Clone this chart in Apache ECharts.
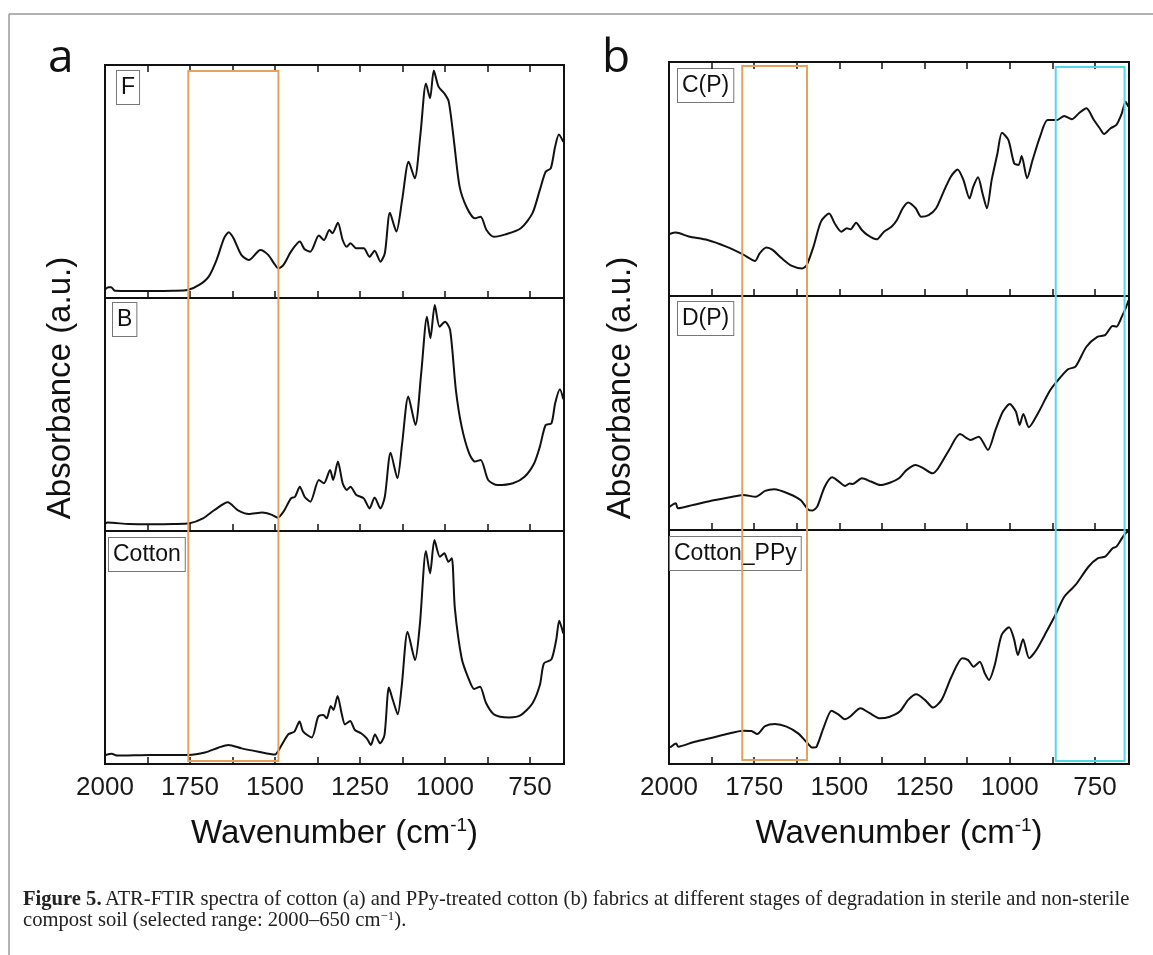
<!DOCTYPE html>
<html>
<head>
<meta charset="utf-8">
<script src="https://cdn.jsdelivr.net/npm/echarts@6/dist/echarts.min.js"></script>
<style>
  html, body { margin: 0; background: #fff; }
  #chart { width: 1153px; height: 955px; }
</style>
</head>
<body>
<div id="chart"></div>
<script>
// spectra: [wavenumber, absorbance (a.u., 0-100 per panel)]
const specF = [[1998,3.9],[1990,4.6],[1982,4.6],[1971,3.1],[1920,3.0],[1858,3.0],[1800,3.1],[1757,3.4],[1723,5.6],[1695,9.2],[1672,16.3],[1650,25.6],[1636,28.2],[1622,25.6],[1599,18.5],[1577,16.3],[1543,20.6],[1520,18.5],[1503,14.9],[1490,12.7],[1475,14.2],[1453,19.9],[1427,24.2],[1413,20.9],[1396,19.9],[1371,26.8],[1356,24.9],[1340,29.2],[1331,27.8],[1315,32.3],[1301,24.9],[1289,22.0],[1278,23.5],[1261,21.3],[1239,21.3],[1222,17.7],[1207,20.3],[1190,15.6],[1177,19.2],[1162,36.6],[1143,28.5],[1126,42.1],[1107,58.5],[1089,51.4],[1072,70.7],[1056,92.1],[1044,85.7],[1033,97.6],[1019,90.7],[1002,87.8],[989,84.3],[974,67.8],[957,47.8],[935,38.5],[912,34.2],[895,34.9],[878,29.2],[856,26.3],[822,27.3],[777,29.9],[743,36.3],[721,46.4],[704,54.2],[689,55.6],[676,65.0],[665,70.2],[652,67.0]];
const specB = [[1998,3.3],[1993,3.6],[1930,3.0],[1858,2.9],[1800,3.0],[1751,3.3],[1712,5.4],[1678,9.0],[1639,12.3],[1610,9.0],[1577,7.3],[1537,7.9],[1509,6.9],[1492,5.7],[1475,8.3],[1453,14.0],[1441,14.7],[1427,19.0],[1413,14.7],[1396,12.6],[1371,21.9],[1356,20.5],[1338,26.2],[1329,21.9],[1315,29.8],[1301,20.5],[1289,17.6],[1278,19.0],[1261,15.5],[1239,14.0],[1222,9.7],[1207,14.4],[1190,9.7],[1177,14.7],[1160,33.6],[1140,22.6],[1126,37.6],[1108,57.7],[1087,45.5],[1070,67.7],[1053,92.0],[1043,82.7],[1030,97.0],[1016,87.7],[1000,89.8],[985,86.3],[968,60.5],[951,44.8],[929,33.3],[912,29.8],[895,30.5],[873,21.9],[845,19.7],[800,20.5],[766,23.3],[738,29.0],[721,36.2],[704,45.5],[687,46.2],[676,54.8],[662,60.8],[652,56.5]];
const specCotton = [[1998,3.9],[1980,4.4],[1966,3.6],[1863,3.9],[1755,3.9],[1706,4.9],[1667,7.0],[1637,8.2],[1598,6.7],[1549,5.3],[1500,4.1],[1485,7.0],[1461,12.7],[1443,13.9],[1428,18.2],[1417,13.9],[1392,11.4],[1373,20.3],[1358,21.0],[1348,19.6],[1336,24.9],[1328,23.2],[1316,29.2],[1304,21.7],[1294,17.0],[1279,18.5],[1265,14.6],[1247,13.2],[1230,11.0],[1218,8.2],[1206,12.7],[1191,8.9],[1178,12.4],[1165,32.8],[1152,26.8],[1139,21.3],[1127,33.9],[1110,56.8],[1088,44.6],[1074,59.7],[1056,91.4],[1044,81.8],[1031,96.1],[1015,89.0],[1002,90.4],[990,86.8],[980,88.3],[971,66.8],[951,45.4],[931,36.8],[914,32.2],[897,33.2],[880,26.4],[858,21.5],[838,20.3],[811,20.0],[777,21.0],[743,26.0],[721,33.9],[709,43.2],[687,44.9],[673,53.2],[664,61.5],[652,56.0]];
const specCP = [[1998,26.5],[1980,27.1],[1942,25.4],[1887,23.9],[1832,21.1],[1783,17.8],[1747,15.0],[1734,18.2],[1714,20.7],[1696,19.7],[1669,16.1],[1641,13.0],[1609,11.8],[1596,13.2],[1576,21.1],[1554,31.8],[1530,35.3],[1514,31.1],[1494,27.5],[1478,28.9],[1467,28.5],[1451,31.3],[1434,28.2],[1418,26.1],[1391,24.2],[1369,27.5],[1347,29.6],[1331,32.5],[1314,37.5],[1298,40.0],[1276,37.5],[1260,33.9],[1238,34.6],[1216,37.5],[1194,44.6],[1173,51.0],[1153,54.1],[1136,49.6],[1118,41.7],[1107,46.7],[1093,50.7],[1080,43.9],[1067,37.5],[1053,49.6],[1036,61.0],[1023,69.8],[1004,66.7],[987,56.7],[974,56.0],[965,59.8],[949,50.3],[933,58.1],[911,68.1],[889,75.2],[862,75.2],[840,76.9],[818,75.5],[797,78.1],[775,80.2],[753,75.2],[736,71.7],[723,69.2],[704,71.7],[687,73.1],[671,78.1],[660,83.0],[652,80.9]];
const specDP = [[1998,10.0],[1980,11.4],[1974,9.3],[1930,10.7],[1876,12.5],[1821,14.0],[1783,15.0],[1745,14.2],[1718,16.7],[1691,17.4],[1647,15.4],[1614,12.8],[1592,8.8],[1579,8.3],[1565,10.0],[1543,18.5],[1521,22.5],[1505,21.1],[1483,18.8],[1470,19.9],[1461,19.7],[1434,22.1],[1407,20.7],[1380,19.2],[1352,20.2],[1325,22.1],[1303,25.6],[1276,27.8],[1254,26.4],[1227,24.2],[1210,26.4],[1178,34.2],[1146,41.0],[1115,38.5],[1091,39.9],[1064,34.2],[1042,42.7],[1020,50.6],[1000,53.8],[982,50.6],[971,44.9],[960,49.6],[944,43.9],[917,49.9],[884,59.1],[862,63.4],[829,68.7],[807,69.8],[775,78.3],[742,82.6],[720,83.3],[698,87.2],[687,86.9],[671,91.2],[660,94.7],[651,98.3]];
const specCottonPPy = [[1997,7.0],[1979,8.8],[1973,7.4],[1929,9.3],[1880,11.0],[1831,12.8],[1782,14.2],[1758,14.1],[1741,12.8],[1718,16.2],[1689,17.1],[1655,16.0],[1621,13.1],[1596,9.3],[1579,7.0],[1567,7.4],[1547,15.2],[1523,22.8],[1503,21.2],[1484,19.1],[1469,20.2],[1438,23.8],[1411,21.7],[1381,19.5],[1352,20.2],[1323,22.4],[1298,27.4],[1274,29.8],[1249,27.4],[1225,24.1],[1200,27.4],[1171,37.3],[1139,45.2],[1122,44.4],[1106,41.6],[1088,43.7],[1073,38.7],[1061,35.9],[1044,42.3],[1024,55.1],[1002,58.4],[988,53.7],[976,46.6],[961,53.3],[943,45.2],[922,48.7],[892,56.6],[865,64.0],[840,71.5],[807,76.5],[769,84.3],[742,87.9],[720,88.6],[698,92.2],[687,92.9],[671,96.4],[660,98.6],[652,99.5]];

const sampleNames = ['F', 'B', 'Cotton', 'C(P)', 'D(P)', 'Cotton_PPy'];
const tickValues = [2000, 1875, 1750, 1625, 1500, 1375, 1250, 1125, 1000, 875, 750];
const labelValues = [2000, 1750, 1500, 1250, 1000, 750];
// highlighted ranges (wavenumber from, to)
const orangeA = [1755, 1490];
const orangeB = [1785, 1595];
const cyanB = [865, 663];

const chart = echarts.init(document.getElementById('chart'));

const spectra = [specF, specB, specCotton, specCP, specDP, specCottonPPy];
const grids = [
  { left: 105, top: 65, width: 459, height: 233 },
  { left: 105, top: 298, width: 459, height: 233 },
  { left: 105, top: 531, width: 459, height: 233 },
  { left: 669, top: 62, width: 460, height: 234 },
  { left: 669, top: 296, width: 460, height: 234 },
  { left: 669, top: 530, width: 460, height: 234 }
].map(g => Object.assign(g, { show: true, borderColor: '#111', borderWidth: 2, backgroundColor: 'transparent' }));

function xAxisFor(i, pos, labels) {
  return {
    gridIndex: i, type: 'value', min: 650, max: 2000, inverse: true, position: pos,
    axisLine: { show: false, onZero: false },
    splitLine: { show: false },
    axisTick: { show: true, inside: true, length: 7, customValues: tickValues, lineStyle: { color: '#111', width: 1.5 } },
    axisLabel: { show: labels, customValues: labelValues, margin: 11, fontSize: 26, color: '#1a1a1a',
      fontFamily: 'Liberation Sans', formatter: v => String(v) }
  };
}

const xAxes = grids.map((g, i) => xAxisFor(i, 'bottom', i === 2 || i === 5));
xAxes.push(xAxisFor(0, 'top', false), xAxisFor(3, 'top', false));

chart.setOption({
  animation: false,
  grid: grids,
  xAxis: xAxes,
  yAxis: grids.map((g, i) => ({ gridIndex: i, type: 'value', min: 0, max: 100, show: false })),
  series: spectra.map((d, i) => ({
    type: 'line', xAxisIndex: i, yAxisIndex: i, data: d, smooth: 0.25,
    showSymbol: false, lineStyle: { color: '#111', width: 2 }
  }))
});

const txt = { fontFamily: 'Liberation Sans', fill: '#111' };
const graphic = [];

// figure border
graphic.push({ type: 'line', shape: { x1: 9, y1: 14, x2: 1153, y2: 14 }, style: { stroke: '#999', lineWidth: 1.5 } });
graphic.push({ type: 'line', shape: { x1: 9, y1: 14, x2: 9, y2: 955 }, style: { stroke: '#999', lineWidth: 1.5 } });

// panel letters
graphic.push({ type: 'text', x: 48, y: 82, style: { text: 'a', fontSize: 46, fontFamily: 'Open Sans', fill: '#111', verticalAlign: 'bottom' } });
graphic.push({ type: 'text', x: 602, y: 82, style: { text: 'b', fontSize: 46, fontFamily: 'Open Sans', fill: '#111', verticalAlign: 'bottom' } });

// axis titles
[61, 621].forEach(x => {
  graphic.push({ type: 'text', x: x, y: 388, rotation: Math.PI / 2,
    style: Object.assign({ text: 'Absorbance (a.u.)', fontSize: 33, align: 'center', verticalAlign: 'middle' }, txt) });
});
[334.5, 899].forEach(x => {
  graphic.push({ type: 'text', x: x, y: 834, style: Object.assign({
    text: '{n|Wavenumber (cm}{s|-1}{n|)}', align: 'center', verticalAlign: 'middle',
    rich: {
      n: { fontSize: 33, lineHeight: 36, fontFamily: 'Liberation Sans', fill: '#111' },
      s: { fontSize: 19, lineHeight: 19, verticalAlign: 'top', fontFamily: 'Liberation Sans', fill: '#111' }
    }
  }, txt) });
});

// sample labels in boxes
sampleNames.forEach((name, i) => {
  const g = grids[i];
  const dx = [12, 8, 4, 9, 9, 1][i];
  graphic.push({ type: 'text', x: g.left + dx, y: g.top + [6, 5, 7, 7, 6, 7][i], style: Object.assign({
    text: name, fontSize: 23, lineHeight: 25, padding: [4, 4, 4, 4],
    borderColor: '#777', borderWidth: 1, backgroundColor: '#fff'
  }, txt) });
});

// highlight boxes spanning the three stacked panels
function spanBox(range, topGrid, bottomGrid, topVal, bottomVal, color) {
  const p1 = chart.convertToPixel({ gridIndex: topGrid }, [range[0], topVal]);
  const p2 = chart.convertToPixel({ gridIndex: bottomGrid }, [range[1], bottomVal]);
  graphic.push({ type: 'rect', z: 100,
    shape: { x: p1[0], y: p1[1], width: p2[0] - p1[0], height: p2[1] - p1[1] },
    style: { fill: 'none', stroke: color, lineWidth: 2 } });
}
spanBox(orangeA, 0, 2, 97.4, 1.3, '#E6A15A');
spanBox(orangeB, 3, 5, 98.3, 1.7, '#E6A15A');
spanBox(cyanB, 3, 5, 97.9, 1.3, '#52D9E6');

// caption
graphic.push({ type: 'text', x: 23, y: 900, style: {
  text: '{b|Figure 5.} {r|ATR-FTIR spectra of cotton (a) and PPy-treated cotton (b) fabrics at different stages of degradation in sterile and non-sterile}',
  verticalAlign: 'middle',
  rich: {
    b: { fontSize: 20.6, fontWeight: 'bold', fontFamily: 'Liberation Serif', fill: '#222' },
    r: { fontSize: 20.6, fontFamily: 'Liberation Serif', fill: '#222' }
  }
} });
graphic.push({ type: 'text', x: 23, y: 921, style: {
  text: '{r|compost soil (selected range: 2000–650 cm}{s|−1}{r|).}',
  verticalAlign: 'middle',
  rich: {
    r: { fontSize: 20.6, lineHeight: 21, fontFamily: 'Liberation Serif', fill: '#222' },
    s: { fontSize: 13, lineHeight: 13, verticalAlign: 'top', fontFamily: 'Liberation Serif', fill: '#222' }
  }
} });

chart.setOption({ graphic: graphic });
</script>
</body>
</html>
